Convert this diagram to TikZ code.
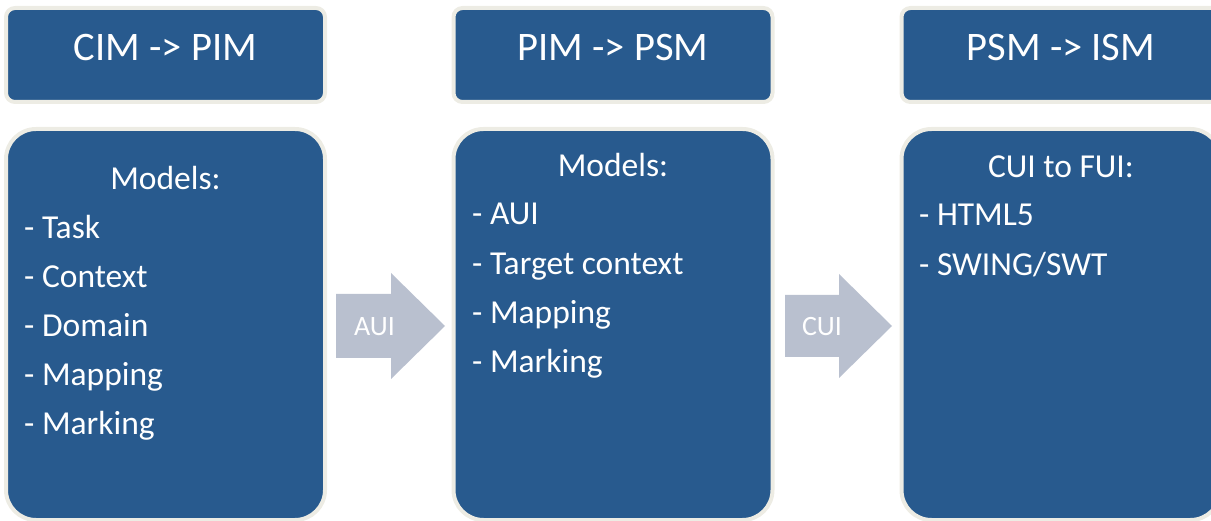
\documentclass[tikz,border=0pt]{standalone}
\usepackage{fontspec}
\setmainfont{Carlito}
\usetikzlibrary{positioning}
\definecolor{boxblue}{RGB}{40,90,142}
\definecolor{boxrim}{RGB}{237,236,228}
\definecolor{arrowgrey}{RGB}{185,192,207}

\begin{document}
\begin{tikzpicture}[x=1pt,y=-1pt]
\tikzstyle{stage}=[rectangle,rounded corners=9pt,draw=boxrim,line width=4pt,fill=boxblue,minimum width=319pt,minimum height=94pt,inner sep=0pt]
\tikzstyle{modelbox}=[stage,rounded corners=30pt,minimum height=391pt]
\tikzstyle{title}=[text=white,anchor=base,inner sep=0pt,font=\fontsize{40.5}{48}\selectfont]
\tikzstyle{itemhead}=[text=white,anchor=base,inner sep=0pt,font=\fontsize{33.5}{40}\selectfont]
\tikzstyle{item}=[itemhead,anchor=base west]
\tikzstyle{flow}=[fill=arrowgrey]
\tikzstyle{flowlabel}=[text=white,anchor=base,inner sep=0pt,font=\fontsize{28}{32}\selectfont]
\useasboundingbox (0,0) rectangle (1211,521);
\clip (0,0) rectangle (1211,521);

% headers
\node [stage] (h1) at (165.5,55) {};
\node [stage] (h2) at (613,55) {};
\node [stage] (h3) at (1061,55) {};
\node [title] (t1) at (165.5,61) {CIM -> PIM};
\node [title] (t2) at (613,61) {PIM -> PSM};
\node [title] (t3) at (1061,61) {PSM -> ISM};

% model boxes
\node [modelbox] (b1) at (165.5,324.5) {};
\node [modelbox] (b2) at (613,324.5) {};
\node [modelbox] (b3) at (1061,324.5) {};

\node [itemhead] (m1) at (165.5,190) {Models:};
\node [item] (m11) at (24,238.5) {- Task};
\node [item] (m12) at (24,287.5) {- Context};
\node [item] (m13) at (24,336.5) {- Domain};
\node [item] (m14) at (24,386) {- Mapping};
\node [item] (m15) at (24,435) {- Marking};

\node [itemhead] (m2) at (613,177) {Models:};
\node [item] (m21) at (472,224.5) {- AUI};
\node [item] (m22) at (472,274.5) {- Target context};
\node [item] (m23) at (472,323.5) {- Mapping};
\node [item] (m24) at (472,372.5) {- Marking};

\node [itemhead] (m3) at (1061,177.5) {CUI to FUI:};
\node [item] (m31) at (919,226) {- HTML5};
\node [item] (m32) at (919,276) {- SWING/SWT};

% transformation arrows
\fill [flow] (336,294) -- (391,294) -- (391,273) -- (445,326) -- (391,379) -- (391,358) -- (336,358) -- cycle;
\fill [flow] (785,295) -- (839,295) -- (839,274) -- (892,326) -- (839,378) -- (839,357) -- (785,357) -- cycle;
\node [flowlabel] (a1) at (374.5,336) {AUI};
\node [flowlabel] (a2) at (822,336) {CUI};
\end{tikzpicture}
\end{document}
